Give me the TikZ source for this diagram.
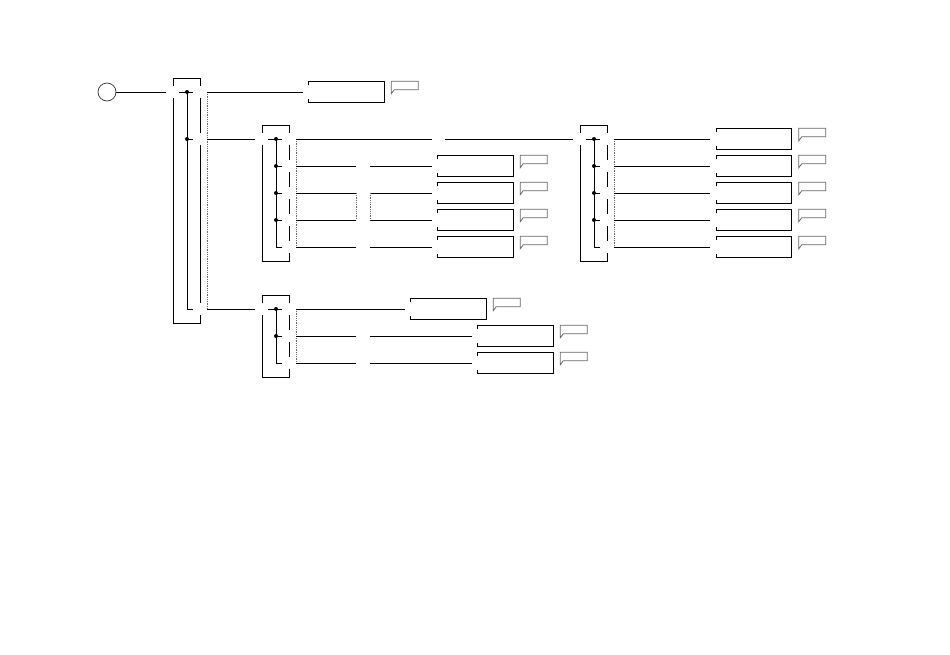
\documentclass[tikz,border=0pt]{standalone}
\usetikzlibrary{calc}

\begin{document}
\begin{tikzpicture}[
    x=1pt, y=-1pt,
    wire/.style={line width=1pt},
    link/.style={densely dotted, black!60, line width=0.8pt},
    blk/.style={rectangle, minimum width=75pt, minimum height=21pt, inner sep=0pt},
    note/.style={draw=black!60, line width=0.8pt},
    tap/.style={circle, fill=black, inner sep=0pt, minimum size=4pt},
    start/.style={circle, draw=black!80, line width=0.7pt, minimum size=18pt, inner sep=0pt}
]
\useasboundingbox (0,0) rectangle (950,654);

% Start point
\node[start] (start) at (107,92) {};

% Brackets: name / left edge / number of rows / rows
\foreach \grp/\xl/\nr/\rows in {A/173/3/{92,139,309}, B/262/5/{139,166,193,220,247},
                                C/580/5/{139,166,193,220,247}, D/262/3/{309,336,363}} {
  \pgfmathsetmacro\xr{\xl+27}
  \pgfmathsetmacro\bus{\xl+14}
  \foreach \r [count=\k, remember=\r as \prev (initially 0)] in \rows {
    \coordinate (\grp-\k) at (\xr+7,\r);
    \ifnum\k=1
      \xdef\first{\r}
      \coordinate (\grp-in) at (\xl-7,\r);
      \draw[wire] (\xl,\r-6) -- (\xl,\r-13.5) -- (\xr,\r-13.5) -- (\xr,\r-6);
      \draw[wire] (\xl+6,\r) -- (\xr-7,\r);
    \else
      \draw[wire] (\xr,\prev+6) -- (\xr,\r-6);
      \draw[wire] (\bus,\r) -- (\xr-7,\r);
    \fi
    \ifnum\k<\nr
      \node[tap] (\grp-t\k) at (\bus,\r) {};
    \else
      \draw[wire] (\xr,\r+6) -- (\xr,\r+14) -- (\xl,\r+14) -- (\xl,\first+6);
      \draw[wire] (\bus,\first) -- (\bus,\r);
      \draw[link] (\grp-1) -- (\grp-\k);
    \fi
  }
}

% Blocks
\node[blk] (a1) at (346.5,92) {};
\foreach \k/\y in {2/166,3/193,4/220,5/247} \node[blk] (b\k) at (475.5,\y) {};
\foreach \k/\y in {1/139,2/166,3/193,4/220,5/247} \node[blk] (c\k) at (754,\y) {};
\node[blk] (d1) at (448.5,309) {};
\node[blk] (d2) at (515.5,336) {};
\node[blk] (d3) at (515.5,363) {};

% Block outlines and comment flags
\foreach \b in {a1,b2,b3,b4,b5,c1,c2,c3,c4,c5,d1,d2,d3} {
  \draw[wire] ([yshift=-4pt]\b.north west) -- (\b.north west) -- (\b.north east)
    -- (\b.south east) -- (\b.south west) -- ([yshift=4pt]\b.south west);
  \draw[note] ([xshift=7pt]\b.north east) -- ++(27pt,0pt) -- ++(0pt,-8.5pt)
    -- ++(-24pt,0pt) -- ++(-3pt,-4pt) -- cycle;
}

% Column break between the two inner columns
\coordinate (sep) at (363,193);

% Connections
\draw[wire] (start) -- (A-in);
\draw[wire] (A-1) -- ($(a1.west)+(-6pt,0)$);
\draw[wire] (A-2) -- (B-in);
\draw[wire] (A-3) -- (D-in);

% B branches
\draw[wire] (B-1) -- ($(b2.west |- B-1)+(-6pt,0)$) ($(b2.west |- B-1)+(7pt,0)$) -- (C-in);
\foreach \k in {2,...,5}
  \draw[wire] (B-\k) -- ($(sep |- B-\k)+(-7pt,0)$) ($(sep |- B-\k)+(7pt,0)$) -- ($(b\k.west)+(-6pt,0)$);
\draw[link] ($(sep |- B-3)+(-7pt,0)$) -- ($(sep |- B-4)+(-7pt,0)$)
            ($(sep |- B-3)+(7pt,0)$) -- ($(sep |- B-4)+(7pt,0)$);

% C branches
\foreach \k in {1,...,5} \draw[wire] (C-\k) -- ($(c\k.west)+(-6pt,0)$);

% D branches
\draw[wire] (D-1) -- ($(d1.west)+(-6pt,0)$);
\foreach \k in {2,3}
  \draw[wire] (D-\k) -- ($(sep |- D-\k)+(-7pt,0)$) ($(sep |- D-\k)+(7pt,0)$) -- ($(d\k.west)+(-6pt,0)$);

\end{tikzpicture}
\end{document}
